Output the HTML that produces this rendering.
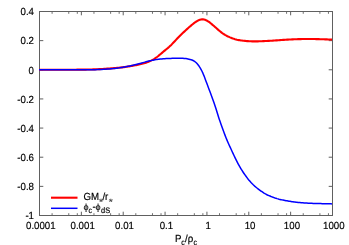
<!DOCTYPE html>
<html><head><meta charset="utf-8"><style>
html,body{margin:0;padding:0;background:#fff;}
svg{display:block;will-change:transform;}
text{font-family:"Liberation Sans",sans-serif;font-size:10.3px;fill:#000;text-rendering:geometricPrecision;stroke:#000;stroke-width:0.18px;}
</style></head><body>
<svg width="349" height="245" viewBox="0 0 349 245">
<rect width="349" height="245" fill="#fff"/>
<rect x="39.5" y="11.5" width="293.0" height="204.0" fill="none" stroke="#606060" stroke-width="1"/>
<path d="M39.50,215.5 v-3.8 M39.50,11.5 v3.8" stroke="#606060" stroke-width="1" fill="none"/>
<path d="M52.10,215.5 v-2.3 M52.10,11.5 v2.3" stroke="#606060" stroke-width="0.9" fill="none"/>
<path d="M68.76,215.5 v-2.3 M68.76,11.5 v2.3" stroke="#606060" stroke-width="0.9" fill="none"/>
<path d="M77.30,215.5 v-2.3 M77.30,11.5 v2.3" stroke="#606060" stroke-width="0.9" fill="none"/>
<path d="M81.36,215.5 v-3.8 M81.36,11.5 v3.8" stroke="#606060" stroke-width="1" fill="none"/>
<path d="M93.96,215.5 v-2.3 M93.96,11.5 v2.3" stroke="#606060" stroke-width="0.9" fill="none"/>
<path d="M110.61,215.5 v-2.3 M110.61,11.5 v2.3" stroke="#606060" stroke-width="0.9" fill="none"/>
<path d="M119.16,215.5 v-2.3 M119.16,11.5 v2.3" stroke="#606060" stroke-width="0.9" fill="none"/>
<path d="M123.21,215.5 v-3.8 M123.21,11.5 v3.8" stroke="#606060" stroke-width="1" fill="none"/>
<path d="M135.81,215.5 v-2.3 M135.81,11.5 v2.3" stroke="#606060" stroke-width="0.9" fill="none"/>
<path d="M152.47,215.5 v-2.3 M152.47,11.5 v2.3" stroke="#606060" stroke-width="0.9" fill="none"/>
<path d="M161.02,215.5 v-2.3 M161.02,11.5 v2.3" stroke="#606060" stroke-width="0.9" fill="none"/>
<path d="M165.07,215.5 v-3.8 M165.07,11.5 v3.8" stroke="#606060" stroke-width="1" fill="none"/>
<path d="M177.67,215.5 v-2.3 M177.67,11.5 v2.3" stroke="#606060" stroke-width="0.9" fill="none"/>
<path d="M194.33,215.5 v-2.3 M194.33,11.5 v2.3" stroke="#606060" stroke-width="0.9" fill="none"/>
<path d="M202.87,215.5 v-2.3 M202.87,11.5 v2.3" stroke="#606060" stroke-width="0.9" fill="none"/>
<path d="M206.93,215.5 v-3.8 M206.93,11.5 v3.8" stroke="#606060" stroke-width="1" fill="none"/>
<path d="M219.53,215.5 v-2.3 M219.53,11.5 v2.3" stroke="#606060" stroke-width="0.9" fill="none"/>
<path d="M236.19,215.5 v-2.3 M236.19,11.5 v2.3" stroke="#606060" stroke-width="0.9" fill="none"/>
<path d="M244.73,215.5 v-2.3 M244.73,11.5 v2.3" stroke="#606060" stroke-width="0.9" fill="none"/>
<path d="M248.79,215.5 v-3.8 M248.79,11.5 v3.8" stroke="#606060" stroke-width="1" fill="none"/>
<path d="M261.39,215.5 v-2.3 M261.39,11.5 v2.3" stroke="#606060" stroke-width="0.9" fill="none"/>
<path d="M278.04,215.5 v-2.3 M278.04,11.5 v2.3" stroke="#606060" stroke-width="0.9" fill="none"/>
<path d="M286.59,215.5 v-2.3 M286.59,11.5 v2.3" stroke="#606060" stroke-width="0.9" fill="none"/>
<path d="M290.64,215.5 v-3.8 M290.64,11.5 v3.8" stroke="#606060" stroke-width="1" fill="none"/>
<path d="M303.24,215.5 v-2.3 M303.24,11.5 v2.3" stroke="#606060" stroke-width="0.9" fill="none"/>
<path d="M319.90,215.5 v-2.3 M319.90,11.5 v2.3" stroke="#606060" stroke-width="0.9" fill="none"/>
<path d="M328.44,215.5 v-2.3 M328.44,11.5 v2.3" stroke="#606060" stroke-width="0.9" fill="none"/>
<path d="M332.50,215.5 v-3.8 M332.50,11.5 v3.8" stroke="#606060" stroke-width="1" fill="none"/>
<path d="M39.5,11.50 h3.8 M332.5,11.50 h-3.8" stroke="#606060" stroke-width="1" fill="none"/>
<text transform="translate(34.0,15.30) scale(0.94,1)" text-anchor="end">0.4</text>
<path d="M39.5,40.64 h3.8 M332.5,40.64 h-3.8" stroke="#606060" stroke-width="1" fill="none"/>
<text transform="translate(34.0,44.44) scale(0.94,1)" text-anchor="end">0.2</text>
<path d="M39.5,69.79 h3.8 M332.5,69.79 h-3.8" stroke="#606060" stroke-width="1" fill="none"/>
<text transform="translate(34.0,73.59) scale(0.94,1)" text-anchor="end">0</text>
<path d="M39.5,98.93 h3.8 M332.5,98.93 h-3.8" stroke="#606060" stroke-width="1" fill="none"/>
<text transform="translate(34.0,102.73) scale(0.94,1)" text-anchor="end">-0.2</text>
<path d="M39.5,128.07 h3.8 M332.5,128.07 h-3.8" stroke="#606060" stroke-width="1" fill="none"/>
<text transform="translate(34.0,131.87) scale(0.94,1)" text-anchor="end">-0.4</text>
<path d="M39.5,157.21 h3.8 M332.5,157.21 h-3.8" stroke="#606060" stroke-width="1" fill="none"/>
<text transform="translate(34.0,161.01) scale(0.94,1)" text-anchor="end">-0.6</text>
<path d="M39.5,186.36 h3.8 M332.5,186.36 h-3.8" stroke="#606060" stroke-width="1" fill="none"/>
<text transform="translate(34.0,190.16) scale(0.94,1)" text-anchor="end">-0.8</text>
<path d="M39.5,215.50 h3.8 M332.5,215.50 h-3.8" stroke="#606060" stroke-width="1" fill="none"/>
<text transform="translate(34.0,219.30) scale(0.94,1)" text-anchor="end">-1</text>
<text transform="translate(40.80,228.8) scale(0.94,1)" text-anchor="middle">0.0001</text>
<text transform="translate(82.66,228.8) scale(0.94,1)" text-anchor="middle">0.001</text>
<text transform="translate(124.51,228.8) scale(0.94,1)" text-anchor="middle">0.01</text>
<text transform="translate(166.37,228.8) scale(0.94,1)" text-anchor="middle">0.1</text>
<text transform="translate(208.23,228.8) scale(0.94,1)" text-anchor="middle">1</text>
<text transform="translate(250.09,228.8) scale(0.94,1)" text-anchor="middle">10</text>
<text transform="translate(291.94,228.8) scale(0.94,1)" text-anchor="middle">100</text>
<text transform="translate(333.80,228.8) scale(0.94,1)" text-anchor="middle">1000</text>
<path d="M39.0,69.75 L40.0,69.75 L41.0,69.75 L42.0,69.75 L43.0,69.76 L44.0,69.76 L45.0,69.76 L46.0,69.76 L47.0,69.76 L48.0,69.76 L49.0,69.76 L50.0,69.76 L51.0,69.76 L52.0,69.76 L53.0,69.76 L54.0,69.76 L55.0,69.76 L56.0,69.76 L57.0,69.76 L58.0,69.75 L59.0,69.75 L60.0,69.75 L61.0,69.75 L62.0,69.75 L63.0,69.74 L64.0,69.74 L65.0,69.74 L66.0,69.73 L67.0,69.73 L68.0,69.72 L69.0,69.72 L70.0,69.72 L71.0,69.71 L72.0,69.70 L73.0,69.70 L74.0,69.69 L75.0,69.69 L76.0,69.68 L77.0,69.67 L78.0,69.67 L79.0,69.66 L80.0,69.65 L81.0,69.64 L82.0,69.63 L83.0,69.62 L84.0,69.61 L85.0,69.60 L86.0,69.58 L87.0,69.57 L88.0,69.55 L89.0,69.53 L90.0,69.51 L91.0,69.48 L92.0,69.45 L93.0,69.42 L94.0,69.38 L95.0,69.34 L96.0,69.30 L97.0,69.25 L98.0,69.20 L99.0,69.15 L100.0,69.10 L101.0,69.04 L102.0,68.99 L103.0,68.93 L104.0,68.87 L105.0,68.80 L106.0,68.74 L107.0,68.67 L108.0,68.60 L109.0,68.53 L110.0,68.45 L111.0,68.38 L112.0,68.30 L113.0,68.22 L114.0,68.14 L115.0,68.05 L116.0,67.96 L117.0,67.87 L118.0,67.78 L119.0,67.68 L120.0,67.57 L121.0,67.46 L122.0,67.35 L123.0,67.23 L124.0,67.10 L125.0,66.97 L126.0,66.83 L127.0,66.68 L128.0,66.53 L129.0,66.37 L130.0,66.21 L131.0,66.04 L132.0,65.86 L133.0,65.68 L134.0,65.50 L135.0,65.31 L136.0,65.12 L137.0,64.92 L138.0,64.72 L139.0,64.51 L140.0,64.29 L141.0,64.06 L142.0,63.81 L143.0,63.55 L144.0,63.27 L145.0,62.98 L146.0,62.65 L147.0,62.31 L148.0,61.94 L149.0,61.54 L150.0,61.11 L151.0,60.65 L152.0,60.15 L153.0,59.62 L154.0,59.04 L155.0,58.42 L156.0,57.74 L157.0,57.01 L158.0,56.23 L159.0,55.41 L160.0,54.57 L161.0,53.72 L162.0,52.86 L163.0,52.01 L164.0,51.17 L165.0,50.34 L166.0,49.52 L167.0,48.70 L168.0,47.87 L169.0,47.00 L170.0,46.09 L171.0,45.14 L172.0,44.13 L173.0,43.10 L174.0,42.03 L175.0,40.96 L176.0,39.88 L177.0,38.82 L178.0,37.77 L179.0,36.74 L180.0,35.73 L181.0,34.74 L182.0,33.77 L183.0,32.81 L184.0,31.87 L185.0,30.93 L186.0,30.01 L187.0,29.10 L188.0,28.20 L189.0,27.32 L190.0,26.45 L191.0,25.60 L192.0,24.77 L193.0,23.96 L194.0,23.18 L195.0,22.45 L196.0,21.76 L197.0,21.13 L198.0,20.57 L199.0,20.09 L200.0,19.71 L201.0,19.45 L202.0,19.31 L203.0,19.33 L204.0,19.48 L205.0,19.77 L206.0,20.18 L207.0,20.69 L208.0,21.29 L209.0,21.96 L210.0,22.70 L211.0,23.49 L212.0,24.33 L213.0,25.19 L214.0,26.06 L215.0,26.95 L216.0,27.84 L217.0,28.73 L218.0,29.60 L219.0,30.45 L220.0,31.28 L221.0,32.08 L222.0,32.85 L223.0,33.57 L224.0,34.24 L225.0,34.87 L226.0,35.44 L227.0,35.97 L228.0,36.46 L229.0,36.92 L230.0,37.36 L231.0,37.77 L232.0,38.16 L233.0,38.53 L234.0,38.87 L235.0,39.18 L236.0,39.45 L237.0,39.70 L238.0,39.91 L239.0,40.10 L240.0,40.27 L241.0,40.42 L242.0,40.55 L243.0,40.68 L244.0,40.79 L245.0,40.90 L246.0,40.99 L247.0,41.08 L248.0,41.15 L249.0,41.22 L250.0,41.28 L251.0,41.32 L252.0,41.36 L253.0,41.38 L254.0,41.40 L255.0,41.40 L256.0,41.39 L257.0,41.37 L258.0,41.34 L259.0,41.30 L260.0,41.27 L261.0,41.23 L262.0,41.18 L263.0,41.14 L264.0,41.10 L265.0,41.06 L266.0,41.01 L267.0,40.97 L268.0,40.92 L269.0,40.87 L270.0,40.81 L271.0,40.75 L272.0,40.69 L273.0,40.62 L274.0,40.55 L275.0,40.48 L276.0,40.41 L277.0,40.33 L278.0,40.26 L279.0,40.19 L280.0,40.11 L281.0,40.04 L282.0,39.98 L283.0,39.91 L284.0,39.85 L285.0,39.78 L286.0,39.72 L287.0,39.66 L288.0,39.61 L289.0,39.55 L290.0,39.50 L291.0,39.45 L292.0,39.40 L293.0,39.35 L294.0,39.31 L295.0,39.27 L296.0,39.23 L297.0,39.19 L298.0,39.16 L299.0,39.13 L300.0,39.10 L301.0,39.08 L302.0,39.06 L303.0,39.04 L304.0,39.02 L305.0,39.01 L306.0,39.00 L307.0,39.00 L308.0,38.99 L309.0,39.00 L310.0,39.00 L311.0,39.01 L312.0,39.02 L313.0,39.03 L314.0,39.05 L315.0,39.06 L316.0,39.08 L317.0,39.11 L318.0,39.13 L319.0,39.16 L320.0,39.18 L321.0,39.21 L322.0,39.24 L323.0,39.27 L324.0,39.31 L325.0,39.34 L326.0,39.37 L327.0,39.41 L328.0,39.44 L329.0,39.48 L330.0,39.51 L331.0,39.55 L332.0,39.58" stroke="#ff0000" stroke-width="2.1" fill="none" stroke-linejoin="round"/>
<path d="M39.0,69.75 L40.0,69.75 L41.0,69.75 L42.0,69.75 L43.0,69.75 L44.0,69.75 L45.0,69.75 L46.0,69.75 L47.0,69.75 L48.0,69.75 L49.0,69.75 L50.0,69.75 L51.0,69.75 L52.0,69.75 L53.0,69.75 L54.0,69.75 L55.0,69.75 L56.0,69.75 L57.0,69.75 L58.0,69.75 L59.0,69.75 L60.0,69.75 L61.0,69.75 L62.0,69.75 L63.0,69.75 L64.0,69.75 L65.0,69.75 L66.0,69.75 L67.0,69.75 L68.0,69.75 L69.0,69.75 L70.0,69.75 L71.0,69.75 L72.0,69.75 L73.0,69.75 L74.0,69.75 L75.0,69.75 L76.0,69.75 L77.0,69.75 L78.0,69.75 L79.0,69.75 L80.0,69.75 L81.0,69.75 L82.0,69.75 L83.0,69.75 L84.0,69.75 L85.0,69.75 L86.0,69.75 L87.0,69.74 L88.0,69.74 L89.0,69.73 L90.0,69.72 L91.0,69.71 L92.0,69.70 L93.0,69.69 L94.0,69.67 L95.0,69.65 L96.0,69.63 L97.0,69.60 L98.0,69.57 L99.0,69.54 L100.0,69.50 L101.0,69.46 L102.0,69.41 L103.0,69.36 L104.0,69.31 L105.0,69.25 L106.0,69.19 L107.0,69.12 L108.0,69.05 L109.0,68.97 L110.0,68.88 L111.0,68.79 L112.0,68.70 L113.0,68.60 L114.0,68.49 L115.0,68.38 L116.0,68.27 L117.0,68.14 L118.0,68.01 L119.0,67.88 L120.0,67.74 L121.0,67.59 L122.0,67.43 L123.0,67.27 L124.0,67.10 L125.0,66.92 L126.0,66.74 L127.0,66.55 L128.0,66.35 L129.0,66.15 L130.0,65.94 L131.0,65.72 L132.0,65.49 L133.0,65.26 L134.0,65.02 L135.0,64.78 L136.0,64.53 L137.0,64.27 L138.0,64.00 L139.0,63.74 L140.0,63.47 L141.0,63.19 L142.0,62.92 L143.0,62.65 L144.0,62.37 L145.0,62.10 L146.0,61.84 L147.0,61.58 L148.0,61.33 L149.0,61.08 L150.0,60.84 L151.0,60.61 L152.0,60.39 L153.0,60.18 L154.0,59.99 L155.0,59.80 L156.0,59.63 L157.0,59.48 L158.0,59.34 L159.0,59.21 L160.0,59.09 L161.0,58.98 L162.0,58.89 L163.0,58.80 L164.0,58.72 L165.0,58.65 L166.0,58.58 L167.0,58.53 L168.0,58.48 L169.0,58.44 L170.0,58.40 L171.0,58.38 L172.0,58.36 L173.0,58.34 L174.0,58.33 L175.0,58.32 L176.0,58.31 L177.0,58.30 L178.0,58.29 L179.0,58.29 L180.0,58.29 L181.0,58.29 L182.0,58.31 L183.0,58.35 L184.0,58.41 L185.0,58.50 L186.0,58.61 L187.0,58.76 L188.0,58.94 L189.0,59.15 L190.0,59.40 L191.0,59.68 L192.0,60.03 L193.0,60.46 L194.0,61.01 L195.0,61.70 L196.0,62.54 L197.0,63.55 L198.0,64.72 L199.0,66.06 L200.0,67.58 L201.0,69.30 L202.0,71.25 L203.0,73.43 L204.0,75.85 L205.0,78.44 L206.0,81.14 L207.0,83.86 L208.0,86.54 L209.0,89.19 L210.0,91.82 L211.0,94.46 L212.0,97.15 L213.0,99.91 L214.0,102.75 L215.0,105.72 L216.0,108.84 L217.0,112.07 L218.0,115.31 L219.0,118.42 L220.0,121.35 L221.0,124.16 L222.0,126.92 L223.0,129.69 L224.0,132.44 L225.0,135.13 L226.0,137.70 L227.0,140.14 L228.0,142.46 L229.0,144.70 L230.0,146.89 L231.0,149.06 L232.0,151.20 L233.0,153.34 L234.0,155.46 L235.0,157.57 L236.0,159.64 L237.0,161.65 L238.0,163.58 L239.0,165.41 L240.0,167.15 L241.0,168.82 L242.0,170.42 L243.0,171.97 L244.0,173.47 L245.0,174.92 L246.0,176.31 L247.0,177.65 L248.0,178.94 L249.0,180.16 L250.0,181.32 L251.0,182.43 L252.0,183.48 L253.0,184.48 L254.0,185.43 L255.0,186.34 L256.0,187.20 L257.0,188.03 L258.0,188.82 L259.0,189.59 L260.0,190.33 L261.0,191.05 L262.0,191.74 L263.0,192.41 L264.0,193.05 L265.0,193.65 L266.0,194.21 L267.0,194.72 L268.0,195.20 L269.0,195.64 L270.0,196.06 L271.0,196.47 L272.0,196.85 L273.0,197.23 L274.0,197.60 L275.0,197.96 L276.0,198.29 L277.0,198.61 L278.0,198.90 L279.0,199.18 L280.0,199.43 L281.0,199.67 L282.0,199.89 L283.0,200.10 L284.0,200.30 L285.0,200.50 L286.0,200.68 L287.0,200.86 L288.0,201.03 L289.0,201.20 L290.0,201.36 L291.0,201.51 L292.0,201.66 L293.0,201.80 L294.0,201.93 L295.0,202.05 L296.0,202.17 L297.0,202.28 L298.0,202.39 L299.0,202.49 L300.0,202.58 L301.0,202.67 L302.0,202.75 L303.0,202.83 L304.0,202.91 L305.0,202.98 L306.0,203.04 L307.0,203.10 L308.0,203.16 L309.0,203.21 L310.0,203.26 L311.0,203.30 L312.0,203.35 L313.0,203.39 L314.0,203.42 L315.0,203.46 L316.0,203.49 L317.0,203.52 L318.0,203.55 L319.0,203.57 L320.0,203.60 L321.0,203.62 L322.0,203.65 L323.0,203.67 L324.0,203.69 L325.0,203.72 L326.0,203.74 L327.0,203.76 L328.0,203.78 L329.0,203.81 L330.0,203.83 L331.0,203.86 L332.0,203.89" stroke="#0000ff" stroke-width="1.5" fill="none" stroke-linejoin="round"/>
<path d="M51,197.7 H77.5" stroke="#ff0000" stroke-width="2.1"/>
<path d="M51,208.3 H77.5" stroke="#0000ff" stroke-width="1.5"/>
<text transform="translate(83.40,200.30) scale(0.94,1)">GM</text>
<text transform="translate(99.00,204.80) scale(1.15,1)" style="font-size:9px;fill:#444;stroke-width:0.1px;">*</text>
<text transform="translate(102.40,200.30) scale(0.94,1)">/r</text>
<text transform="translate(108.70,205.00) scale(1.15,1)" style="font-size:9px;fill:#444;stroke-width:0.1px;">*</text>
<text transform="translate(83.40,210.00) scale(1.02,1)" style="font-size:9px;stroke-width:0.1px;">ϕ</text>
<text transform="translate(88.50,213.35) scale(0.88,1)" style="font-size:8px;">c</text>
<text transform="translate(92.50,209.90) scale(0.94,1)">-</text>
<text transform="translate(95.40,210.00) scale(1.02,1)" style="font-size:9px;stroke-width:0.1px;">ϕ</text>
<text transform="translate(101.00,213.35) scale(0.93,1)" style="font-size:8px;">dS</text>
<text transform="translate(175.10,242.00) scale(0.94,1)">P</text>
<text transform="translate(181.30,245.30) scale(0.88,1)" style="font-size:8px;">c</text>
<text transform="translate(185.00,242.00) scale(0.94,1)">/ρ</text>
<text transform="translate(193.40,245.30) scale(0.88,1)" style="font-size:8px;">c</text>
</svg>
</body></html>
